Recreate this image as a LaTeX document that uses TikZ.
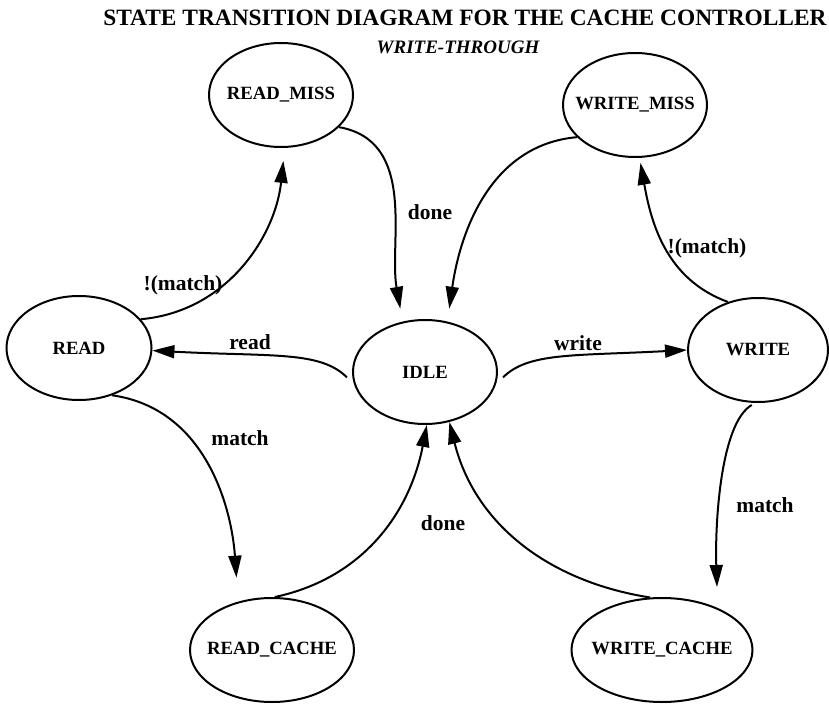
\documentclass[tikz,border=0pt]{standalone}
\usepackage{fontspec}
\setmainfont{Liberation Serif}
\usetikzlibrary{shapes.geometric,arrows.meta}

\tikzset{
  state/.style={draw, ellipse, line width=2pt, inner sep=0pt, minimum height=104pt,
    font=\fontsize{18.7}{20}\selectfont\bfseries},
  trans/.style={line width=2pt, -{Triangle[length=22pt,width=13pt]}},
  lbl/.style={font=\fontsize{21.5}{24}\selectfont\bfseries, inner sep=0pt},
}
\newcommand{\sname}[1]{\makebox[0pt]{#1}}

\begin{document}
\begin{tikzpicture}[x=1pt,y=1pt]
        \useasboundingbox (0,0) rectangle (829,705);

        % title
        \node[font=\fontsize{23.4}{26}\selectfont\bfseries] at (465, 687)   (title) {STATE TRANSITION DIAGRAM FOR THE CACHE CONTROLLER};
        \node[font=\fontsize{19}{21}\selectfont\bfseries\itshape] at (458, 658)   (policy) {WRITE-THROUGH};

        % place nodes
        \node[state, minimum width=144pt] at (281, 610)   (rmiss) {\sname{READ\_MISS}};
        \node[state, minimum width=144pt] at (635, 600)   (wmiss) {\sname{WRITE\_MISS}};
        \node[state, minimum width=145pt] at (79, 357)    (read) {\sname{READ}};
        \node[state, minimum width=144pt] at (425, 333)   (idle) {\sname{IDLE}};
        \node[state, minimum width=140pt] at (758, 355)   (write) {\sname{WRITE}};
        \node[state, minimum width=164pt] at (272, 55)    (rcache) {\sname{READ\_CACHE}};
        \node[state, minimum width=181pt] at (662, 55)    (wcache) {\sname{WRITE\_CACHE}};

        % draw edges
        \draw[trans, shorten >=13pt] (rmiss.-29) to[out=-10, in=100] (idle.114);
        \draw[trans, shorten >=13pt] (wmiss.209) to[out=185, in=82] (idle.66);
        \draw[trans, shorten >=13pt] (read.25) to[out=5, in=-96] (rmiss.-86);
        \draw[trans, shorten <=10pt] (idle.190) to[out=135, in=-3, out looseness=0.6, in looseness=1.5] (read.-2);
        \draw[trans, shorten <=10pt] (idle.-10) to[out=45, in=183, out looseness=0.6, in looseness=1.5] (write.180);
        \draw[trans, shorten >=5pt] (write.122) to[out=160, in=-80] (wmiss.-85);
        \draw[trans, shorten >=24pt] (read.-55) to[out=-8, in=94] (rcache.125);
        \draw[trans] (rcache.87) to[out=12, in=-101] (idle.-88);
        \draw[trans] (wcache.103) to[out=171, in=-76] (idle.-64);
        \draw[trans, shorten <=4pt, shorten >=21pt] (write.-93) to[out=210, in=92, out looseness=0.5] (wcache.37);

        % edge labels
        \node[lbl] at (430, 493)   (done1) {done};
        \node[lbl] at (183, 420)   (nomatch1) {!(match)};
        \node[lbl] at (250, 363)   (rdlbl) {read};
        \node[lbl] at (578, 362)   (wrlbl) {write};
        \node[lbl] at (707, 457)   (nomatch2) {!(match)};
        \node[lbl] at (240, 267)   (match1) {match};
        \node[lbl] at (443, 182)   (done2) {done};
        \node[lbl] at (765, 200)   (match2) {match};
\end{tikzpicture}
\end{document}
